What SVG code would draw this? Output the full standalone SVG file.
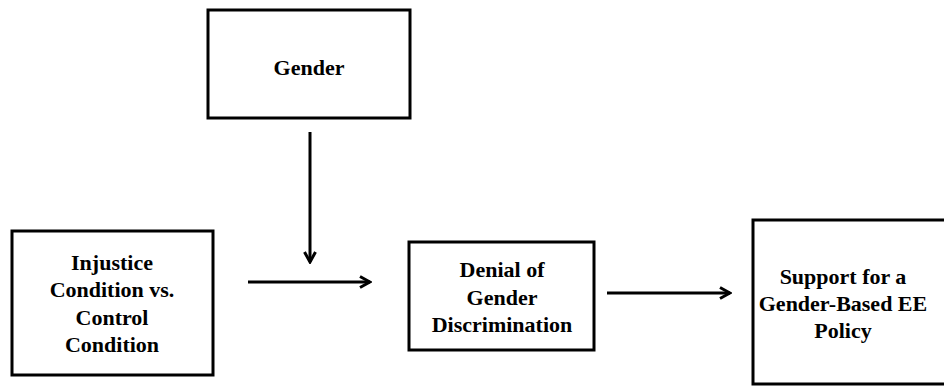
<svg xmlns="http://www.w3.org/2000/svg" width="944" height="387" viewBox="0 0 944 387">
<style>
.box{fill:#fff;stroke:#000;stroke-width:3}
.t{font-family:"Liberation Serif","Times New Roman",serif;font-weight:bold;font-size:22px;fill:#000;text-anchor:middle}
.c{stroke:#000;stroke-width:3;fill:none}
</style>
<defs>
<marker id="ah" viewBox="0 0 14 14" refX="12" refY="7" markerWidth="14" markerHeight="14" markerUnits="userSpaceOnUse" orient="auto">
<path d="M2,1.5 L12,7 L2,12.5" fill="none" stroke="#000" stroke-width="3"/>
</marker>
</defs>
<rect width="944" height="387" fill="#fff"/>
<g id="gender">
<rect class="box" x="208" y="10" width="202" height="108"/>
<text class="t" x="309" y="75">Gender</text>
</g>
<g id="injustice">
<rect class="box" x="12" y="231" width="201" height="144"/>
<text class="t" x="112" y="270">Injustice</text>
<text class="t" x="112" y="297">Condition  vs.</text>
<text class="t" x="112" y="325">Control</text>
<text class="t" x="112" y="352">Condition</text>
</g>
<g id="denial">
<rect class="box" x="409" y="242" width="185" height="108"/>
<text class="t" x="502" y="277">Denial  of</text>
<text class="t" x="502" y="305">Gender</text>
<text class="t" x="502" y="332">Discrimination</text>
</g>
<g id="support">
<rect class="box" x="753" y="220" width="200" height="164"/>
<text class="t" x="843" y="284">Support  for a</text>
<text class="t" x="843" y="311">Gender-Based EE</text>
<text class="t" x="843" y="338">Policy</text>
</g>
<g id="connectors">
<line class="c" x1="310" y1="132" x2="310" y2="262" marker-end="url(#ah)"/>
<line class="c" x1="248" y1="282" x2="370" y2="282" marker-end="url(#ah)"/>
<line class="c" x1="607" y1="293" x2="730" y2="293" marker-end="url(#ah)"/>
</g>
</svg>
